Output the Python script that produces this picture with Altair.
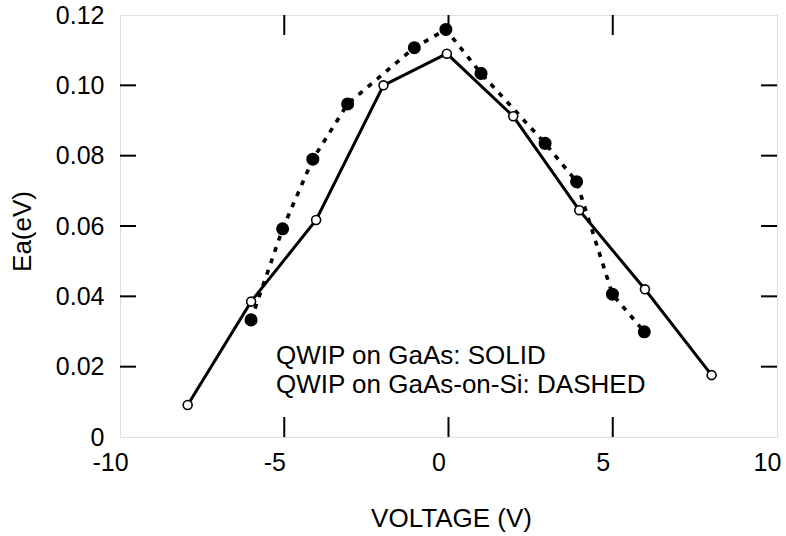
import altair as alt
import pandas as pd

# QWIP on GaAs (solid line, open circles)
solid_v = [-7.94, -6.01, -4.03, -1.98, -0.05, 1.97, 3.98, 5.98, 8.01]
solid_ea = [0.0091, 0.0385, 0.0617, 0.1000, 0.1090, 0.0912, 0.0645, 0.0420, 0.0176]

# QWIP on GaAs-on-Si (dashed line, filled circles)
dashed_v = [-6.01, -5.05, -4.13, -3.07, -1.04, -0.08, 0.99, 2.94, 3.90, 4.99, 5.96]
dashed_ea = [0.0333, 0.0592, 0.0790, 0.0947, 0.1107, 0.1159, 0.1034, 0.0835, 0.0726, 0.0406, 0.0299]

x_labels = [-10, -5, 0, 5, 10]
y_labels = [0, 0.02, 0.04, 0.06, 0.08, 0.10, 0.12]
x_ticks = [-5, 0, 5]
y_ticks = [0.02, 0.04, 0.06, 0.08, 0.10]
note_lines = ["QWIP on GaAs: SOLID", "QWIP on GaAs-on-Si: DASHED"]

W, H = 657, 422
FONT = "Liberation Sans"

solid = pd.DataFrame({"v": solid_v, "ea": solid_ea})
dashed = pd.DataFrame({"v": dashed_v, "ea": dashed_ea})

xs = alt.Scale(domain=[-10, 10], nice=False, zero=False)
ys = alt.Scale(domain=[0, 0.12], nice=False, zero=False)

xaxis = alt.Axis(
    values=x_labels, title="VOLTAGE (V)", grid=False, domain=False,
    ticks=False, tickSize=0, labelPadding=13, labelOffset=-10,
    labelExpr="'' + datum.value", labelFlush=False,
    labelFontSize=25, labelFont=FONT, labelColor="black",
    titleFontSize=26, titleFont=FONT, titleFontWeight="normal", titleColor="black",
    titleX=331, titleY=81, titleBaseline="middle", titleAlign="center",
)
yaxis = alt.Axis(
    values=y_labels, title="Ea(eV)", grid=False, domain=False,
    ticks=False, tickSize=0, labelPadding=16,
    labelExpr="datum.value == 0 ? '0' : format(datum.value, '.2f')",
    labelFlush=False,
    labelFontSize=25, labelFont=FONT, labelColor="black",
    titleFontSize=26, titleFont=FONT, titleFontWeight="normal", titleColor="black",
    titleX=-98, titleY=216, titleAngle=270, titleBaseline="middle", titleAlign="center",
)

X = lambda: alt.X("v:Q", scale=xs, axis=xaxis)
Y = lambda: alt.Y("ea:Q", scale=ys, axis=yaxis)

solid_line = alt.Chart(solid).mark_line(color="black", strokeWidth=3).encode(x=X(), y=Y())
dashed_line = alt.Chart(dashed).mark_line(color="black", strokeWidth=3.6, strokeDash=[5, 7]).encode(x=X(), y=Y())
filled_pts = alt.Chart(dashed).mark_point(shape="circle", filled=True, color="black", size=170, opacity=1).encode(x=X(), y=Y())
open_pts = alt.Chart(solid).mark_point(shape="circle", filled=True, fill="white", stroke="black", strokeWidth=1.6, size=80, opacity=1).encode(x=X(), y=Y())

ydf = pd.DataFrame({"ea": y_ticks})
xdf = pd.DataFrame({"v": x_ticks})
left_ticks = alt.Chart(ydf).mark_rule(color="black", strokeWidth=2).encode(y=Y(), x=alt.value(0), x2=alt.value(16))
right_ticks = alt.Chart(ydf).mark_rule(color="black", strokeWidth=2).encode(y=Y(), x=alt.value(W - 16), x2=alt.value(W))
bottom_ticks = alt.Chart(xdf).mark_rule(color="black", strokeWidth=2).encode(x=X(), y=alt.value(H - 20), y2=alt.value(H))
top_ticks = alt.Chart(xdf).mark_rule(color="black", strokeWidth=2).encode(x=X(), y=alt.value(0), y2=alt.value(20))

note1 = alt.Chart(pd.DataFrame({"label": [note_lines[0]]})).mark_text(
    align="left", baseline="middle", fontSize=26, font=FONT, color="black"
).encode(x=alt.value(156), y=alt.value(341), text="label:N")
note2 = alt.Chart(pd.DataFrame({"label": [note_lines[1]]})).mark_text(
    align="left", baseline="middle", fontSize=26, font=FONT, color="black"
).encode(x=alt.value(156), y=alt.value(370), text="label:N")

chart = alt.layer(
    solid_line, dashed_line, filled_pts, open_pts,
    left_ticks, right_ticks, bottom_ticks, top_ticks, note1, note2,
).properties(
    width=W, height=H,
    autosize=alt.AutoSizeParams(type="none"),
    padding={"left": 120, "top": 15, "right": 9, "bottom": 99},
).configure_view(
    stroke="black", strokeWidth=2
).configure(background="white")

chart.save("out.html", embed_options={"renderer": "svg", "actions": False})
